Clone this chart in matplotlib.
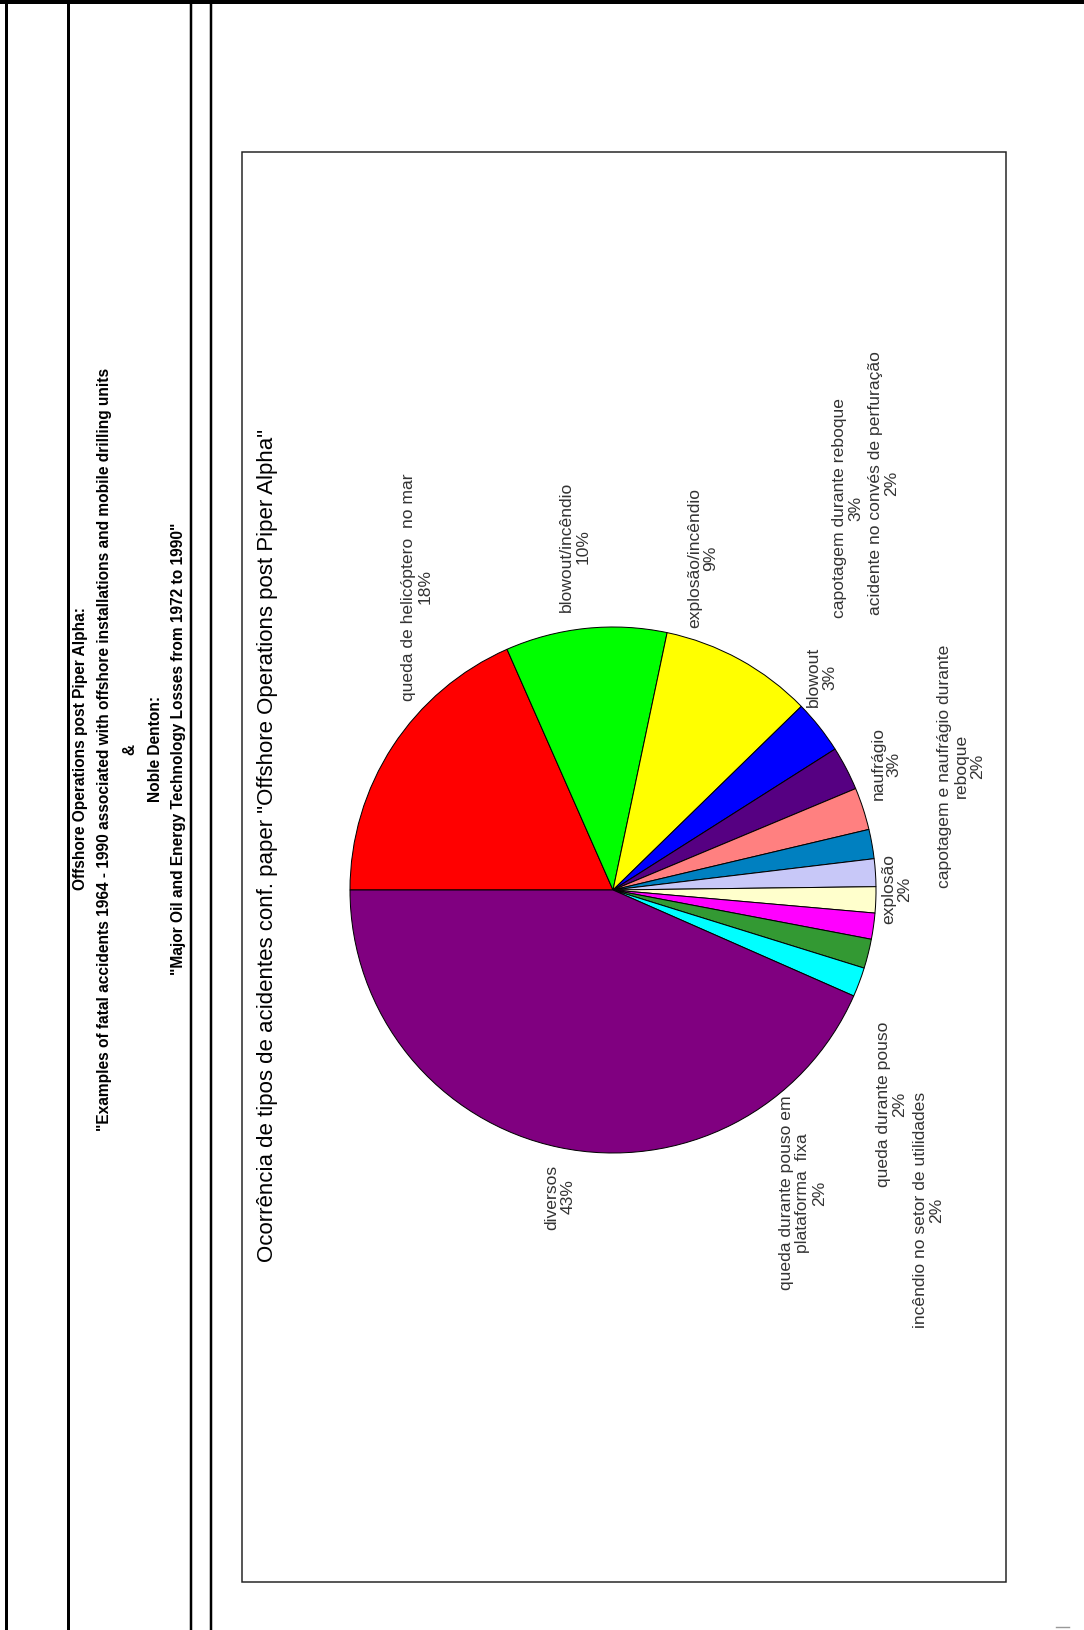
import matplotlib
matplotlib.use("Agg")
import matplotlib.pyplot as plt
from matplotlib.patches import Rectangle

plt.rcParams['font.family'] = ['Liberation Sans', 'DejaVu Sans']

# Tipos de acidentes (ordem das fatias, sentido horário a partir da esquerda)
categorias = [
    'queda de helicóptero  no mar',
    'blowout/incêndio',
    'explosão/incêndio',
    'blowout',
    'capotagem durante reboque',
    'naufrágio',
    'acidente no convés de perfuração',
    'capotagem e naufrágio durante\nreboque',
    'explosão',
    'queda durante pouso',
    'incêndio no setor de utilidades',
    'queda durante pouso em\nplataforma  fixa',
    'diversos',
]
percentuais = [18.4, 9.9, 9.4, 3.3, 2.7, 2.6, 1.8, 1.7, 1.6, 1.6, 1.8, 1.8, 43.4]
cores = ['#FF0000', '#00FF00', '#FFFF00', '#0000FF', '#560082', '#FF8080',
         '#0080C0', '#C8C8F8', '#FFFFCC', '#FF00FF', '#339933', '#00FFFF',
         '#800080']

# posição (px) do centro de cada rótulo
pos_rotulos = [(417, 587), (575, 547), (703, 558), (822, 677), (848, 508),
               (886, 764), (884, 483), (961, 766), (897, 889), (892, 1104),
               (929, 1210), (803, 1193), (560, 1197)]

cabecalho = [
    'Offshore Operations post Piper Alpha:',
    '"Examples of fatal accidents 1964 - 1990 associated with offshore installations and mobile drilling units',
    '&',
    'Noble Denton:',
    '"Major Oil and Energy Technology Losses from 1972 to 1990"',
]
titulo = 'Ocorrência de tipos de acidentes conf. paper "Offshore Operations post Piper Alpha"'

W, H = 1084, 1630
fig = plt.figure(figsize=(W / 100, H / 100), dpi=100)
ax = fig.add_axes([0, 0, 1, 1])

px = 0.72  # 1 pixel em pontos

wedges, _ = ax.pie(percentuais, colors=cores, startangle=180, counterclock=True,
                   center=(613, 890), radius=263, frame=True,
                   wedgeprops=dict(edgecolor='black', linewidth=1.0 * px))
ax.set_xlim(0, W)
ax.set_ylim(H, 0)
ax.set_aspect('equal')
ax.axis('off')

for nome, p, (x, y) in zip(categorias, percentuais, pos_rotulos):
    ax.text(x, y, f'{nome}\n{round(p)}%', rotation=90, ha='center', va='center',
            multialignment='center', fontsize=12.6, color='#333333',
            linespacing=1.1, zorder=0.5)

# moldura da página
ax.plot([0, W], [2, 2], color='black', lw=4 * px, solid_capstyle='butt')
for x, lw in [(6, 3), (68, 3), (191, 2.5), (211, 2.5)]:
    ax.plot([x, x], [0, H], color='black', lw=lw * px, solid_capstyle='butt')

ax.add_patch(Rectangle((242, 152), 1006 - 242, 1582 - 152, fill=False,
                       edgecolor='#222222', lw=1.5 * px))
ax.plot([1056, 1069], [1627, 1627], color='#999999', lw=1.4 * px)

for x, linha in zip([81, 105, 130, 155, 179], cabecalho):
    ax.text(x, 749, linha, rotation=90, ha='center', va='center',
            fontsize=11.2, fontweight='bold', color='black')

ax.text(268, 845, titulo, rotation=90, ha='center', va='center',
        fontsize=16, color='black')

fig.savefig('out.png', dpi=100)
